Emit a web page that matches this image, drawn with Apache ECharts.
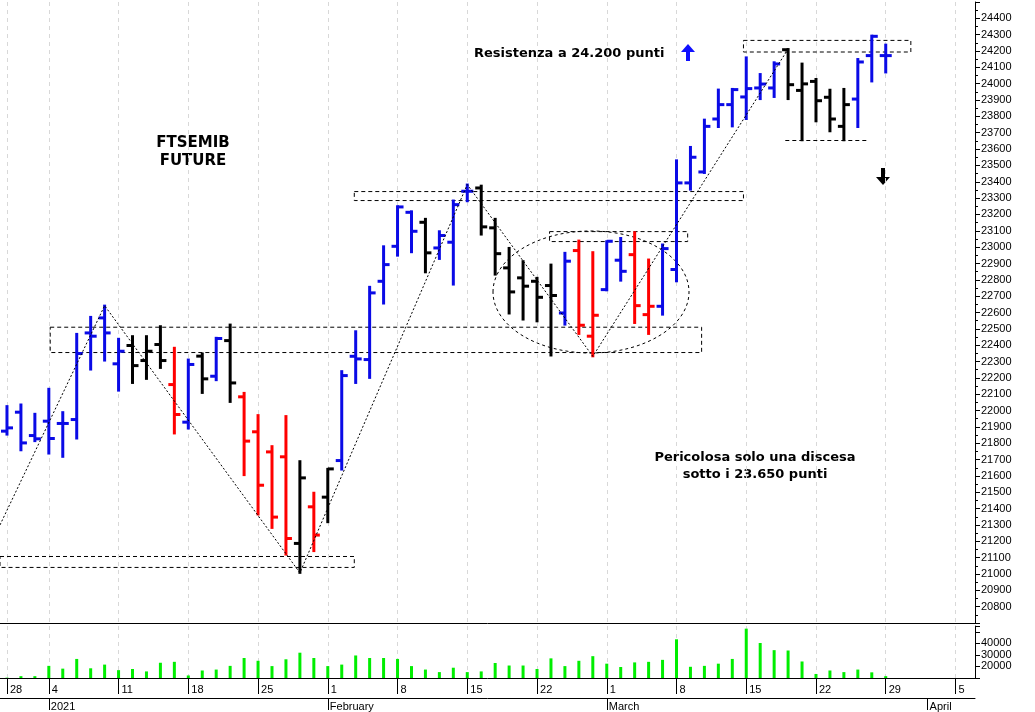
<!DOCTYPE html>
<html>
<head>
<meta charset="utf-8">
<script src="https://cdn.jsdelivr.net/npm/echarts@6/dist/echarts.min.js"></script>
<style>html,body{margin:0;padding:0;background:#fff}#c{width:1035px;height:712px}</style>
</head>
<body>
<div id="c"></div>
<script>
// trading days, Dec 28 2020 .. Mar 29 2021
var dates = ['28','29','30','4','5','6','7','8','11','12','13','14','15','18','19','20','21','22','25','26','27','28','29',
  '1','2','3','4','5','8','9','10','11','12','15','16','17','18','19','22','23','24','25','26',
  '1','2','3','4','5','8','9','10','11','12','15','16','17','18','19','22','23','24','25','26','29'];
var opens  = [21874,21990,21847,21935,21921,21945,22475,22567,22286,22398,22306,22404,22159,21929,22333,22210,22428,22084,21870,21747,21717,21187,21411,
  21470,21694,22332,22312,22791,23005,23213,23152,22995,23030,23342,23362,23118,22873,22812,22791,22765,22597,22979,22455,
  22740,22920,22954,22587,22638,22863,23393,23460,23784,23872,23919,23974,23974,24208,23959,24014,23917,23739,23906,24172,24172];
var highs  = [22027,22037,21980,22133,21990,22469,22573,22642,22439,22455,22455,22516,22384,22312,22349,22445,22526,22108,21972,21782,21966,21690,21497,
  21643,22241,22485,22757,23005,23250,23219,23173,23097,23285,23383,23376,23173,22995,22914,22812,22893,22965,23040,22969,
  23036,23056,23091,22924,23016,23531,23613,23780,23964,23968,24161,24059,24131,24212,24123,24029,23963,23968,24151,24294,24239];
var lows   = [21853,21757,21813,21737,21717,21829,22251,22306,22122,22169,22194,22261,21860,21890,22108,22186,22053,21605,21364,21282,21119,21007,21140,
  21317,21639,22169,22200,22655,22948,22969,22846,22928,22771,23281,23077,22832,22594,22557,22546,22337,22526,22469,22332,
  22736,22795,22536,22469,22587,22791,23352,23454,23735,23739,23784,23906,23919,23906,23654,23770,23709,23654,23735,24014,24069];
var closes = [21894,21802,21827,21829,21921,22349,22455,22475,22363,22275,22363,22306,21976,22282,22194,22441,22169,21813,21543,21348,21217,21588,21238,
  21643,22214,22316,22720,22893,23246,23097,22965,23071,23260,23342,23124,22960,22726,22761,22693,22704,22914,22522,22583,
  23036,22852,22642,22638,22991,23393,23550,23739,23872,23964,23970,23998,24121,23994,23999,23896,23784,23872,24133,24290,24172];
// 1 = up trend (blue), 0 = neutral (black), -1 = down (red)
var signal = [1,1,1,1,1,1,1,1,1,0,0,0,-1,1,0,1,0,-1,-1,-1,-1,0,-1,
  0,1,1,1,1,1,1,0,1,1,1,0,0,0,0,0,0,1,-1,-1,
  1,1,-1,-1,1,1,1,1,1,1,1,1,1,0,0,0,0,0,1,1,1];
var volumes = [10300,11600,11600,20500,18100,26500,18400,21600,16800,17800,15700,23200,24000,12200,16500,17300,20500,27300,24900,20300,26200,31900,27300,
  20300,21600,29500,27300,27300,26500,20300,17300,15100,18900,15100,15700,23000,20800,20800,17800,27000,20300,24900,28900,
  22400,19500,23500,24000,25700,43500,19700,20500,22400,26500,52700,40300,34100,33800,24300,13500,16500,15100,17300,14900,11600];
var weekIdx = [0,3,8,13,18,23,28,33,38,43,48,53,58,63,68];
var weekLbl = ['28','4','11','18','25','1','8','15','22','1','8','15','22','29','5'];
var monthIdx = [3,23,43,66];
var monthLbl = ['2021','February','March','April'];
// trendline pivots [index, price]
var zigzag = [[-0.5,21300],[7,22642],[21,21007],[33,23383],[42,22332],[56,24212]];
// price zones [x1, y1, x2, y2]
var zones = [[3.1,22510,49.8,22355],[-0.5,21107,24.9,21040],[24.9,23340,52.8,23285],[38.9,23095,48.8,23034],[52.8,24265,64.8,24194]];
var supportLine = [[55.8,23652],[61.7,23652]];

var colors = {'1':'#0a0ae6','0':'#000000','-1':'#ff0000'};
var ohlc = dates.map(function (d, i) { return [i, opens[i], highs[i], lows[i], closes[i], signal[i]]; });
var vol = volumes.map(function (v, i) { return [i, v]; });

var chart = echarts.init(document.getElementById('c'));
var font = 'Liberation Sans, Arial, sans-serif';
var xBase = {type:'value', min:-0.5, max:69.4, axisLabel:{show:false}, axisTick:{show:false, customValues:weekIdx},
  splitLine:{show:true, lineStyle:{color:'#d8d8d8', type:[4,4]}}, axisLine:{show:true, onZero:false, lineStyle:{color:'#000'}}};

chart.setOption({
  animation:false,
  grid:[{left:0, right:60, top:2, height:621}, {left:0, right:60, top:626, height:54}],
  xAxis:[
    Object.assign({}, xBase, {gridIndex:0}),
    Object.assign({}, xBase, {gridIndex:1,
      axisTick:{show:true, customValues:weekIdx, length:16, lineStyle:{color:'#000'}},
      axisLabel:{show:true, customValues:weekIdx, align:'left', margin:6, padding:[0,0,0,3], color:'#000', fontSize:11, fontFamily:font,
        formatter:function (v) { return weekLbl[weekIdx.indexOf(Math.round(v))] || ''; }}}),
    {type:'value', gridIndex:1, min:-0.5, max:69.4, position:'bottom', offset:20,
      axisLine:{show:true, onZero:false, lineStyle:{color:'#000'}}, splitLine:{show:false},
      axisTick:{show:true, customValues:monthIdx, length:12, lineStyle:{color:'#000'}},
      axisLabel:{show:true, customValues:monthIdx, align:'left', margin:3, padding:[0,0,0,2], color:'#000', fontSize:11, fontFamily:font,
        formatter:function (v) { return monthLbl[monthIdx.indexOf(Math.round(v))] || ''; }}}
  ],
  yAxis:[
    {type:'value', gridIndex:0, position:'right', min:20700, max:24500, interval:100,
      axisLine:{show:true, onZero:false, lineStyle:{color:'#000'}}, axisTick:{show:true, length:5, lineStyle:{color:'#000'}},
      minorTick:{show:true, splitNumber:2, length:3, lineStyle:{color:'#000'}},
      splitLine:{show:false},
      axisLabel:{color:'#000', fontSize:11, fontFamily:font, margin:6,
        formatter:function (v) { return (v === 20700 || v === 24500) ? '' : v; }}},
    {type:'value', gridIndex:1, position:'right', min:10000, max:55000, interval:10000,
      axisLine:{show:true, onZero:false, lineStyle:{color:'#000'}}, axisTick:{show:true, length:5, lineStyle:{color:'#000'}},
      splitLine:{show:false},
      axisLabel:{color:'#000', fontSize:11, fontFamily:font, margin:6,
        formatter:function (v) { return (v >= 20000 && v <= 40000) ? v : ''; }}}
  ],
  series:[
    {type:'custom', xAxisIndex:0, yAxisIndex:0, data:ohlc, encode:{x:0, y:[1,2,3,4]},
      renderItem:function (params, api) {
        var x = api.value(0);
        var pH = api.coord([x, api.value(2)]), pL = api.coord([x, api.value(3)]);
        var pO = api.coord([x, api.value(1)]), pC = api.coord([x, api.value(4)]);
        var st = {stroke:colors[String(api.value(5))], lineWidth:3};
        return {type:'group', children:[
          {type:'line', shape:{x1:pH[0], y1:pH[1]-1, x2:pL[0], y2:pL[1]+1}, style:st},
          {type:'line', shape:{x1:pO[0]-6, y1:pO[1], x2:pO[0], y2:pO[1]}, style:st},
          {type:'line', shape:{x1:pC[0], y1:pC[1], x2:pC[0]+6, y2:pC[1]}, style:st}
        ]};
      }},
    {type:'line', xAxisIndex:0, yAxisIndex:0, data:zigzag, symbol:'none', silent:true,
      lineStyle:{color:'#000', width:1, type:[2,2]},
      markArea:{silent:true, itemStyle:{color:'rgba(0,0,0,0)', borderColor:'#000', borderWidth:1, borderType:[4,3]},
        data:zones.map(function (z) { return [{coord:[z[0], z[1]]}, {coord:[z[2], z[3]]}]; })},
      markLine:{silent:true, symbol:'none', label:{show:false}, lineStyle:{color:'#000', width:1, type:[4,3]},
        data:[[{coord:supportLine[0]}, {coord:supportLine[1]}]]}},
    {type:'bar', xAxisIndex:1, yAxisIndex:1, data:vol, barWidth:3, itemStyle:{color:'#00ee00'}}
  ],
  graphic:[
    {type:'ellipse', shape:{cx:591, cy:292, rx:98, ry:61}, style:{fill:'none', stroke:'#000', lineWidth:1, lineDash:[3,3]}, silent:true},
    {type:'text', style:{x:193, y:134, text:'FTSEMIB\nFUTURE', align:'center', font:'bold 15px DejaVu Sans', fill:'#000', lineHeight:18}},
    {type:'text', style:{x:474, y:47, text:'Resistenza a 24.200 punti', font:'bold 13px DejaVu Sans', fill:'#000'}},
    {type:'text', style:{x:755, y:449, text:'Pericolosa solo una discesa\nsotto i 23.650 punti', align:'center', font:'bold 13px DejaVu Sans', fill:'#000', lineHeight:17}},
    {type:'polygon', shape:{points:[[681,52],[688,44],[695,52],[690,52],[690,61],[686,61],[686,52]]}, style:{fill:'#1010ff'}},
    {type:'polygon', shape:{points:[[876,177],[883,185],[890,177],[885,177],[885,168],[881,168],[881,177]]}, style:{fill:'#000'}}
  ]
});
</script>
</body>
</html>
